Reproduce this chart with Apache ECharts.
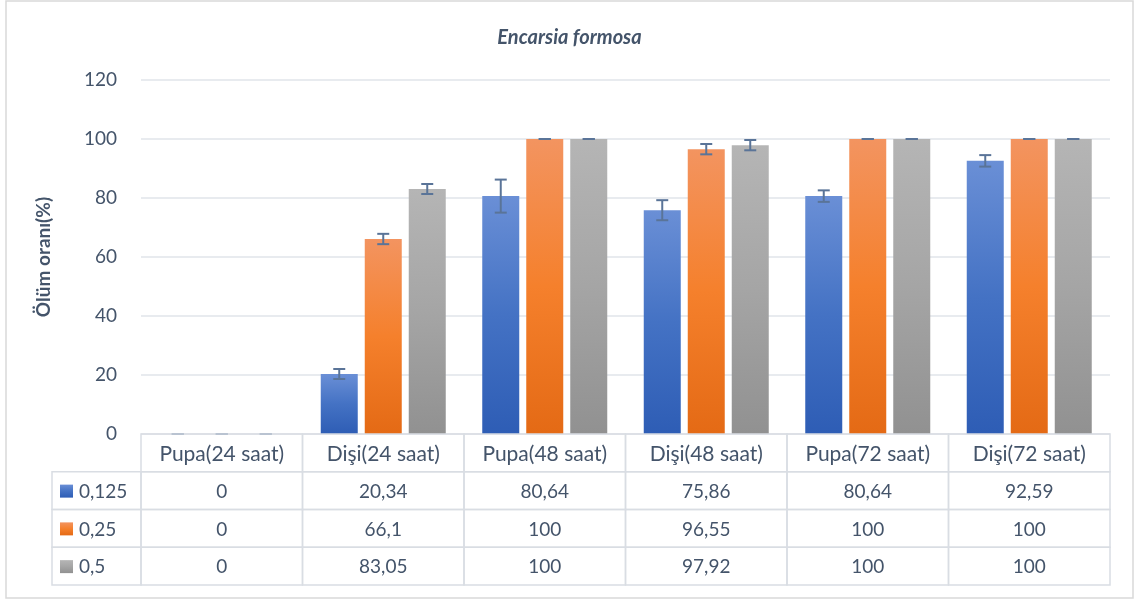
<!DOCTYPE html>
<html>
<head>
<meta charset="utf-8">
<script src="https://cdn.jsdelivr.net/npm/echarts@6/dist/echarts.min.js"></script>
<style>html,body{margin:0;padding:0;background:#fff}#c{width:1139px;height:601px}</style>
</head>
<body>
<div id="c"></div>
<script>
var categories = ['Pupa(24 saat)', 'Dişi(24 saat)', 'Pupa(48 saat)', 'Dişi(48 saat)', 'Pupa(72 saat)', 'Dişi(72 saat)'];
var seriesNames = ['0,125', '0,25', '0,5'];
var values0125 = [0, 20.34, 80.64, 75.86, 80.64, 92.59];
var values025 = [0, 66.1, 100, 96.55, 100, 100];
var values05 = [0, 83.05, 100, 97.92, 100, 100];
var err0125 = [0, 1.7, 5.6, 3.4, 1.95, 1.95];
var err025 = [0, 1.75, 0, 1.75, 0, 0];
var err05 = [0, 1.7, 0, 1.75, 0, 0];
var yMin = 0, yMax = 120, yStep = 20;
var title = 'Encarsia formosa';
var yName = 'Ölüm oranı(%)';

var FONT = 'Lato';
var TXT = '#44546a';
var BORDER = '#d9dde3';
var gradients = [
  ['#6a8fd6', '#4472c4', '#2e5db5'],
  ['#f39460', '#f5802c', '#e46a15'],
  ['#b5b5b5', '#a5a5a5', '#919191']
];
function grad(g) {
  return new echarts.graphic.LinearGradient(0, 0, 0, 1, [
    {offset: 0, color: g[0]}, {offset: 0.5, color: g[1]}, {offset: 1, color: g[2]}
  ]);
}
var allValues = [values0125, values025, values05];
var allErr = [err0125, err025, err05];
var BAR_W = 37, BAR_GAP = 7;

var series = [];
allValues.forEach(function (vals, s) {
  series.push({
    type: 'bar', name: seriesNames[s], data: vals, barWidth: BAR_W, barGap: (BAR_GAP / BAR_W * 100) + '%',
    itemStyle: {color: grad(gradients[s])}, xAxisIndex: 0, yAxisIndex: 0, z: 2
  });
});
allValues.forEach(function (vals, s) {
  series.push({
    type: 'custom', xAxisIndex: 0, yAxisIndex: 0, z: 5,
    data: vals.map(function (v, i) { return [i, v, allErr[s][i]]; }),
    renderItem: function (params, api) {
      var c = api.value(0), v = api.value(1), e = api.value(2);
      var off = (s - 1) * (BAR_W + BAR_GAP);
      var top = api.coord([c, v + e]);
      var bot = api.coord([c, v - e]);
      var x = top[0] + off;
      var st = {stroke: '#5a7498', lineWidth: 2};
      return {type: 'group', children: [
        {type: 'line', shape: {x1: x, y1: top[1], x2: x, y2: bot[1]}, style: st},
        {type: 'line', shape: {x1: x - 6, y1: top[1], x2: x + 6, y2: top[1]}, style: st},
        {type: 'line', shape: {x1: x - 6, y1: bot[1], x2: x + 6, y2: bot[1]}, style: st}
      ]};
    }
  });
});

// table
var tableData = [];
for (var r = 0; r < 4; r++) for (var c = 0; c < categories.length; c++) tableData.push([c, r]);
function fmt(v) { return String(v).replace('.', ','); }
series.push({
  type: 'custom', xAxisIndex: 1, yAxisIndex: 1, z: 10, clip: false,
  data: tableData,
  renderItem: function (params, api) {
    var c = api.value(0), r = api.value(1);
    var p = api.coord([c, r]);
    var sz = api.size([1, 1]);
    var x0 = p[0] - sz[0] / 2, y0 = p[1] - sz[1] / 2;
    var txt = r === 0 ? categories[c] : fmt(allValues[r - 1][c]);
    var fs = r === 0 ? 21 : 19;
    var ch = [
      {type: 'rect', shape: {x: x0, y: y0, width: sz[0], height: sz[1]}, style: {fill: 'none', stroke: BORDER, lineWidth: 1.5}},
      {type: 'text', style: {x: p[0], y: p[1] + 1, text: txt, align: 'center', verticalAlign: 'middle', fill: TXT, font: fs + 'px ' + FONT}}
    ];
    if (c === 0 && r > 0) {
      var lx = 52;
      ch.push({type: 'rect', shape: {x: lx, y: y0, width: x0 - lx, height: sz[1]}, style: {fill: 'none', stroke: BORDER, lineWidth: 1.5}});
      ch.push({type: 'rect', shape: {x: lx + 8, y: p[1] - 6, width: 13, height: 13}, style: {fill: grad(gradients[r - 1])}});
      ch.push({type: 'text', style: {x: lx + 27, y: p[1] + 1, text: seriesNames[r - 1], align: 'left', verticalAlign: 'middle', fill: TXT, font: '19px ' + FONT}});
    }
    return {type: 'group', children: ch};
  }
});

var chart = echarts.init(document.getElementById('c'), null, {renderer: 'canvas'});
chart.setOption({
  backgroundColor: '#fff',
  animation: false,
  title: {text: title, left: 'center', top: 23, textStyle: {fontFamily: FONT, fontStyle: 'italic', fontWeight: 'bold', fontSize: 20, color: '#44546a'}},
  graphic: [{type: 'rect', shape: {x: 6, y: 1, width: 1127, height: 597}, style: {fill: 'none', stroke: '#d9d9d9', lineWidth: 1.5}, z: -1}],
  grid: [
    {left: 141, right: 29, top: 80, bottom: 167},
    {left: 141, right: 29, top: 434, height: 151}
  ],
  xAxis: [
    {type: 'category', gridIndex: 0, data: categories, axisLine: {show: false}, axisTick: {show: false}, axisLabel: {show: false}},
    {type: 'category', gridIndex: 1, data: categories, show: false}
  ],
  yAxis: [
    {type: 'value', gridIndex: 0, min: yMin, max: yMax, interval: yStep,
      name: yName, nameLocation: 'middle', nameGap: 88, nameTextStyle: {fontFamily: FONT, fontWeight: 'bold', fontSize: 19, color: '#44546a'},
      axisLine: {show: false}, axisTick: {show: false},
      axisLabel: {margin: 24, fontFamily: FONT, fontSize: 19, color: TXT},
      splitLine: {lineStyle: {color: '#e1e5ea', width: 1.5}}},
    {type: 'category', gridIndex: 1, inverse: true, data: ['h'].concat(seriesNames), show: false}
  ],
  series: series
});
</script>
</body>
</html>
